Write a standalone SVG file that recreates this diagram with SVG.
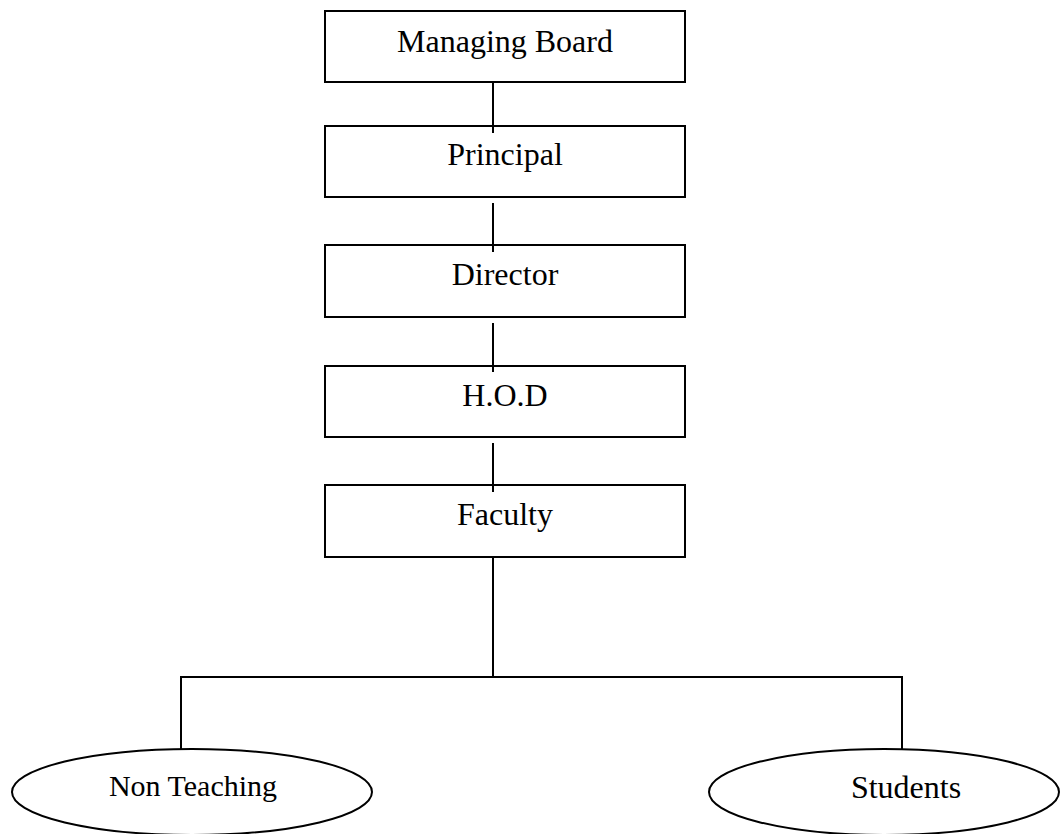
<svg xmlns="http://www.w3.org/2000/svg" width="1060" height="834" viewBox="0 0 1060 834">
<style>
.box{fill:#fff;stroke:#000;stroke-width:2}
.ell{fill:#fff;stroke:#000;stroke-width:2}
.lbl{font-family:"Liberation Serif","Times New Roman",serif;font-size:32px;fill:#000;text-anchor:middle}
.conn line{stroke:#000;stroke-width:2}
</style>
<rect width="1060" height="834" fill="#fff"/>
<g id="managing-board"><rect class="box" x="325" y="11" width="360" height="71"/><text class="lbl" x="505" y="52">Managing Board</text></g>
<g id="principal"><rect class="box" x="325" y="126" width="360" height="71"/><text class="lbl" x="505" y="165">Principal</text></g>
<g id="director"><rect class="box" x="325" y="245" width="360" height="72"/><text class="lbl" x="505" y="285">Director</text></g>
<g id="hod"><rect class="box" x="325" y="366" width="360" height="71"/><text class="lbl" x="505" y="406">H.O.D</text></g>
<g id="faculty"><rect class="box" x="325" y="485" width="360" height="72"/><text class="lbl" x="505" y="525">Faculty</text></g>
<g id="non-teaching"><ellipse class="ell" cx="192" cy="792" rx="180" ry="43"/><text class="lbl" x="193" y="796" style="font-size:30px">Non Teaching</text></g>
<g id="students"><ellipse class="ell" cx="884" cy="792" rx="175" ry="43"/><text class="lbl" x="906" y="798">Students</text></g>
<g id="connectors" class="conn">
<line x1="493" y1="82" x2="493" y2="133"/>
<line x1="493" y1="203" x2="493" y2="252"/>
<line x1="493" y1="323" x2="493" y2="372"/>
<line x1="493" y1="443" x2="493" y2="492"/>
<line x1="493" y1="557" x2="493" y2="677"/>
<line x1="180" y1="677" x2="903" y2="677"/>
<line x1="181" y1="676" x2="181" y2="749"/>
<line x1="902" y1="676" x2="902" y2="749"/>
</g>
</svg>
